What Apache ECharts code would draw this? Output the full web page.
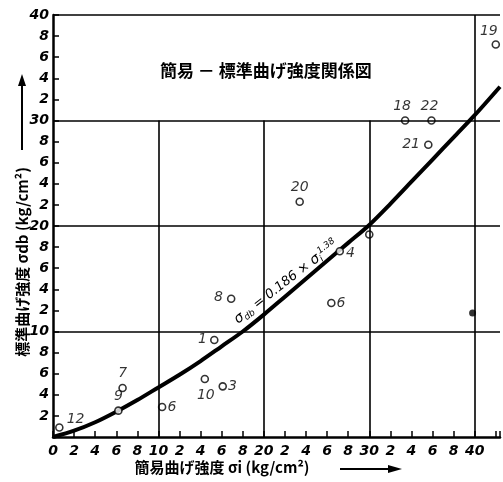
<!DOCTYPE html>
<html><head><meta charset="utf-8">
<script src="https://cdn.jsdelivr.net/npm/echarts@6/dist/echarts.min.js"></script>
<style>html,body{margin:0;padding:0;background:#fff}#c{width:503px;height:482px}</style>
</head><body><div id="c"></div>
<script>
// ---- data ----
const pointLabels = ['12','9','7','6','10','3','1','8','20','4','6','','18','22','21','19'];
const pointX = [0.6, 6.2, 6.6, 10.35, 14.4, 16.1, 15.3, 16.9, 23.4, 27.2, 26.4, 30.0, 33.4, 35.9, 35.6, 42.0];
const pointY = [0.9, 2.5, 4.65, 2.85, 5.5, 4.8, 9.2, 13.1, 22.3, 17.6, 12.7, 19.2, 30.0, 30.0, 27.7, 37.2];
const filledX = [39.8];
const filledY = [11.75];
const curveX = [0, 2, 4, 6, 8, 10, 12, 14, 16, 18, 20, 22, 24, 26, 28, 30, 32, 34, 36, 38, 40, 42.4];
const curveY = [0, 0.6, 1.4, 2.4, 3.5, 4.7, 5.9, 7.2, 8.6, 10.0, 11.6, 13.3, 15.0, 16.7, 18.4, 20.1, 22.1, 24.2, 26.3, 28.4, 30.5, 33.2];
const gridXs = [10, 20, 30];
const gridYs = [10, 20, 30, 40];
const xMax = 42.4, yMax = 40, tickStep = 2;
const titleText = '簡易 － 標準曲げ強度関係図';
const yName = '標準曲げ強度 σdb (kg/cm²)';
const xName = '簡易曲げ強度 σi (kg/cm²)';

// ---- label placement (style only) ----
const labelStyle = {
  '12': {position: 'right', offset: [0, -8]},
  '9': {position: 'top', offset: [0, 0]},
  '7': {position: 'top', offset: [0, 0]},
  '6': {position: 'right', offset: [-2, 0]},
  '10': {position: 'bottom', offset: [1, 2]},
  '3': {position: 'right', offset: [-2, 0]},
  '1': {position: 'left', offset: [0, -1]},
  '8': {position: 'left', offset: [-1, -1]},
  '20': {position: 'top', offset: [0, 0]},
  '4': {position: 'right', offset: [-1, 2]},
  '': {position: 'right', offset: [0, 0]},
  '18': {position: 'top', offset: [-3, 0]},
  '22': {position: 'top', offset: [-2, 0]},
  '21': {position: 'left', offset: [-1, 0]},
  '19': {position: 'top', offset: [-7, 1]}
};

const pts = pointX.map((x, i) => {
  const ls = labelStyle[pointLabels[i]];
  return {value: [x, pointY[i]], label: {show: true, formatter: pointLabels[i], position: ls.position, offset: ls.offset}};
});
const curve = curveX.map((x, i) => [x, curveY[i]]);

const gl = [];
gridXs.forEach(x => gl.push([{coord: [x, 0]}, {coord: [x, 30]}]));
gl.push([{coord: [40, 0]}, {coord: [40, yMax]}]);
gridYs.forEach(y => gl.push([{coord: [0, y]}, {coord: [xMax, y]}]));

const fmt = v => (v % 10 === 0 ? String(v) : String(v % 10));
const numFont = {fontFamily: 'DejaVu Sans', fontStyle: 'italic', fontWeight: 'bold', fontSize: 14, color: '#000'};

const chart = echarts.init(document.getElementById('c'));
chart.setOption({
  animation: false,
  backgroundColor: '#fff',
  grid: {left: 53, right: 0, top: 15, bottom: 45},
  xAxis: {
    type: 'value', min: 0, max: xMax, interval: tickStep,
    axisLine: {lineStyle: {color: '#000', width: 2.5}},
    axisTick: {inside: true, length: 6, lineStyle: {color: '#000', width: 1.5}},
    splitLine: {show: false},
    axisLabel: Object.assign({margin: 7, formatter: v => (v > 40 ? '' : fmt(v))}, numFont)
  },
  yAxis: {
    type: 'value', min: 0, max: yMax, interval: tickStep,
    axisLine: {show: true, lineStyle: {color: '#000', width: 2.5}},
    axisTick: {show: true, inside: true, length: 6, lineStyle: {color: '#000', width: 1.5}},
    splitLine: {show: false},
    axisLabel: Object.assign({margin: 4, formatter: v => (v === 0 ? '' : fmt(v))}, numFont)
  },
  series: [
    {
      type: 'line', data: curve, smooth: 0.3, symbol: 'none',
      lineStyle: {color: '#000', width: 4}, z: 3,
      markLine: {
        silent: true, symbol: 'none', label: {show: false},
        lineStyle: {color: '#000', width: 1.6, type: 'solid'},
        data: gl
      }
    },
    {
      type: 'scatter', data: pts, symbol: 'circle', symbolSize: 7, z: 4,
      itemStyle: {color: '#fff', borderColor: '#000', borderWidth: 1.6},
      label: {fontFamily: 'DejaVu Sans', fontStyle: 'italic', fontSize: 14, color: '#000', distance: 3}
    },
    {
      type: 'scatter', data: filledX.map((x, i) => [x, filledY[i]]), symbol: 'circle', symbolSize: 7, z: 4,
      itemStyle: {color: '#000'}
    }
  ],
  graphic: [
    {type: 'text', left: 160, top: 62, z: 10,
     style: {text: titleText, font: 'bold 17px "Noto Sans CJK JP"', fill: '#000'}},
    {type: 'text', x: 22, y: 262, rotation: Math.PI / 2, z: 10,
     style: {text: yName, font: 'bold 15px "Noto Sans CJK JP"', fill: '#000', textAlign: 'center', textVerticalAlign: 'middle'}},
    {type: 'line', z: 10, shape: {x1: 22, y1: 150, x2: 22, y2: 82}, style: {stroke: '#000', lineWidth: 2}},
    {type: 'polygon', z: 10, shape: {points: [[22, 74], [18, 86], [26, 86]]}, style: {fill: '#000'}},
    {type: 'text', x: 222, y: 467, z: 10,
     style: {text: xName, font: 'bold 15px "Noto Sans CJK JP"', fill: '#000', textAlign: 'center', textVerticalAlign: 'middle'}},
    {type: 'line', z: 10, shape: {x1: 340, y1: 469, x2: 392, y2: 469}, style: {stroke: '#000', lineWidth: 2}},
    {type: 'polygon', z: 10, shape: {points: [[402, 469], [388, 465], [388, 473]]}, style: {fill: '#000'}},
    {type: 'text', x: 286, y: 282, rotation: 0.66, z: 10,
     style: {
       text: '{a|σ}{s|db} = 0.186 × {a|σ}{s|i}{p|1.38}',
       textAlign: 'center', textVerticalAlign: 'middle', fill: '#000',
       font: 'italic 13px "DejaVu Sans"',
       rich: {
         a: {font: 'italic 14px "DejaVu Sans"', fill: '#000'},
         s: {font: 'italic 9px "DejaVu Sans"', fill: '#000', verticalAlign: 'bottom', padding: [6, 0, 0, 0]},
         p: {font: 'italic 9px "DejaVu Sans"', fill: '#000', padding: [0, 0, 8, 0]}
       }
     }}
  ]
});
</script></body></html>
